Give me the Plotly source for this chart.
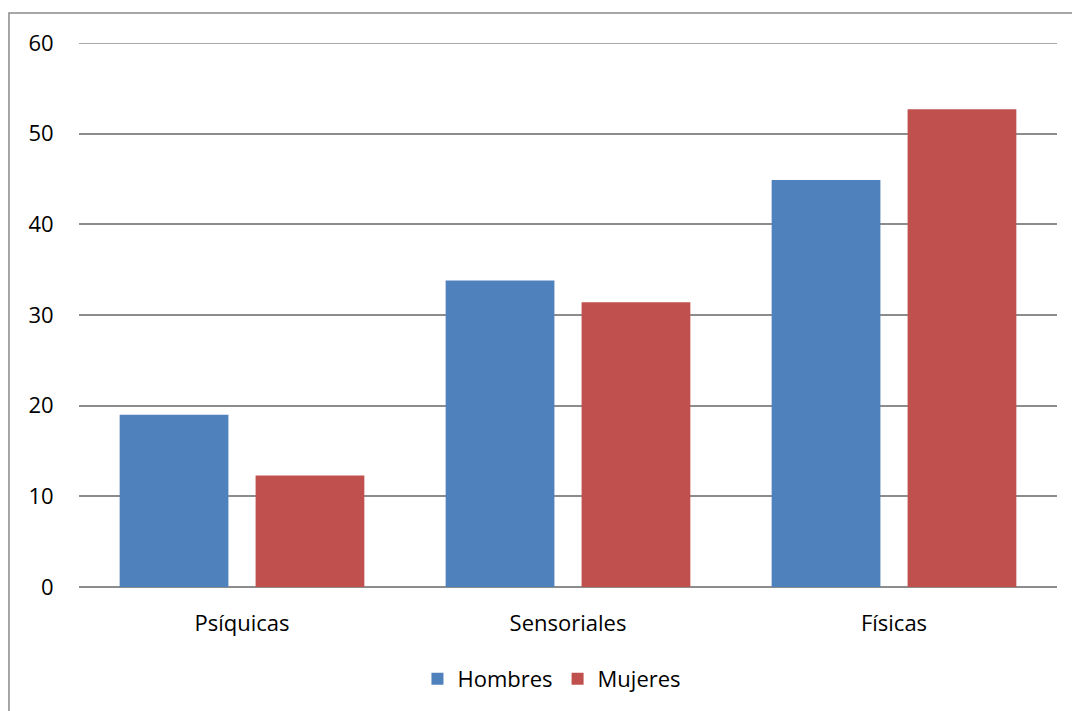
import plotly.graph_objects as go

categories = ["Psíquicas", "Sensoriales", "Físicas"]
hombres = [19.0, 33.8, 44.9]
mujeres = [12.3, 31.4, 52.7]
y_ticks = [0, 10, 20, 30, 40, 50, 60]

FONT = "Open Sans"
GRID = "#8c8c8c"
FS = 22

fig = go.Figure()
fig.add_trace(go.Bar(name="Hombres", x=categories, y=hombres,
                     marker=dict(color="#4F81BD", line=dict(width=0))))
fig.add_trace(go.Bar(name="Mujeres", x=categories, y=mujeres,
                     marker=dict(color="#C0504D", line=dict(width=0))))

fig.update_layout(
    width=1072, height=711,
    margin=dict(l=79, r=15, t=43, b=123),
    paper_bgcolor="white", plot_bgcolor="white",
    barmode="group", bargap=0.166, bargroupgap=0.2,
    font=dict(family=FONT, size=FS, color="#000000"),
    showlegend=True,
    legend=dict(orientation="h", x=0.4836, xanchor="center",
                y=-0.167, yanchor="middle",
                font=dict(family=FONT, size=FS),
                itemwidth=30, traceorder="normal"),
    xaxis=dict(showgrid=False, showline=False, zeroline=False,
               ticks="outside", ticklen=17, tickcolor="rgba(0,0,0,0)",
               tickfont=dict(family=FONT, size=FS)),
    yaxis=dict(range=[0, 60], tickvals=y_ticks, showgrid=True,
               gridcolor=GRID, gridwidth=1.5, zeroline=True,
               zerolinecolor=GRID, zerolinewidth=1.5, showline=False,
               ticks="outside", ticklen=20, tickcolor="rgba(0,0,0,0)",
               tickfont=dict(family=FONT, size=FS)),
    shapes=[
        # outer chart frame
        dict(type="rect", xref="paper", yref="paper",
             x0=-0.0716, x1=1.03, y0=-0.24, y1=1.055,
             line=dict(color="#8a8a8a", width=1.5), layer="below"),
        # top gridline at the end of the value range
        dict(type="line", xref="paper", yref="y",
             x0=0, x1=1, y0=y_ticks[-1], y1=y_ticks[-1],
             line=dict(color=GRID, width=1.5), layer="below"),
    ],
)

fig.write_html("out.html")
